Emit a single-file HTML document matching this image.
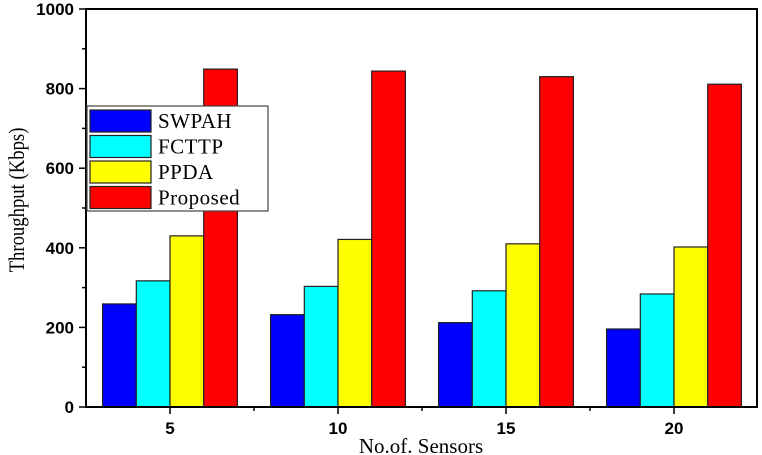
<!DOCTYPE html>
<html><head><meta charset="utf-8"><style>
body{margin:0;background:#fff;}
svg{display:block;}
.tk{font-family:"Liberation Sans",Arial,sans-serif;font-size:17px;}
.sr{font-family:"Liberation Serif",serif;}
</style></head><body>
<svg id="chart" width="762" height="455"></svg>
<script>
const categories=["5","10","15","20"];
const seriesNames=["SWPAH","FCTTP","PPDA","Proposed"];
const swpah=[259,232,212,196];
const fcttp=[317,303,292,284];
const ppda=[430,421,410,402];
const proposed=[849,844,830,811];
const yTicks=[0,200,400,600,800,1000];
const colors=["#0000ff","#00ffff","#ffff00","#ff0000"];
const NS="http://www.w3.org/2000/svg";
const svg=document.getElementById("chart");
const L=86,R=757,T=9,B=407;
const y=v=>B-(v/1000)*(B-T);
const x0=170,step=168;
const xc=i=>x0+i*step;
const bw=33.7;
function mk(tag,attrs,parent){const e=document.createElementNS(NS,tag);for(const k in attrs)e.setAttribute(k,attrs[k]);(parent||svg).appendChild(e);return e;}
const series=[swpah,fcttp,ppda,proposed];
series.forEach((s,si)=>{s.forEach((v,i)=>{
 const r=mk("rect",{x:xc(i)-2*bw+si*bw,y:y(v),width:bw,height:y(0)-y(v),fill:colors[si],stroke:"#222","stroke-width":1.2});
 
 
});});
const frame=mk("rect",{x:L,y:T,width:R-L,height:B-T,fill:"none",stroke:"#000","stroke-width":2});


for(let v=0;v<=1000;v+=100){
 const major=v%200===0;
 mk("line",{x1:L-(major?7:4),x2:L,y1:y(v),y2:y(v),stroke:"#000","stroke-width":1.5});
}
yTicks.forEach(v=>{
 const t=mk("text",{x:L-12,y:y(v)+6,"text-anchor":"end",class:"tk","font-weight":"bold"});t.textContent=v;
 
 
});
categories.forEach((c,i)=>{
 mk("line",{x1:xc(i),x2:xc(i),y1:B,y2:B+7,stroke:"#000","stroke-width":1.5});
 if(i<categories.length-1) mk("line",{x1:xc(i)+step/2,x2:xc(i)+step/2,y1:B,y2:B+4,stroke:"#000","stroke-width":1.5});
 const t=mk("text",{x:xc(i),y:434,"text-anchor":"middle",class:"tk","font-weight":"bold"});t.textContent=c;
 
 
});
const xt=mk("text",{x:421,y:453,"text-anchor":"middle",class:"sr","font-size":"21"});xt.textContent="No.of. Sensors";


const yt=mk("text",{x:0,y:0,"text-anchor":"middle",class:"sr","font-size":"22",transform:"translate(24,200) rotate(-90) scale(0.85,1)"});yt.textContent="Throughput (Kbps)";


const lg=mk("g",{});


mk("rect",{x:87,y:106,width:181,height:105,fill:"#fff",stroke:"#444","stroke-width":1.2},lg);
seriesNames.forEach((n,i)=>{
 const yy=110+i*25.5;
 const sw=mk("rect",{x:90,y:yy,width:61,height:22,fill:colors[i],stroke:"#222","stroke-width":1.2},lg);
 
 
 const t=mk("text",{x:158,y:yy+18,class:"sr","font-size":"21","letter-spacing":"0.5"},lg);t.textContent=n;
 
 
});
</script>
</body></html>
